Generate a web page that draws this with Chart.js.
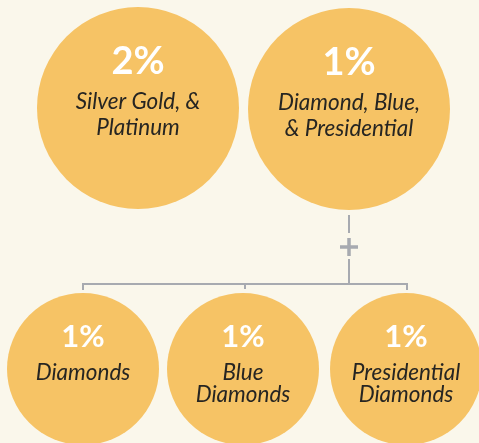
<!DOCTYPE html>
<html>
<head>
<meta charset="utf-8">
<script src="https://cdn.jsdelivr.net/npm/chart.js@4"></script>
<style>
  html, body { margin: 0; padding: 0; background: #faf7eb; }
  #wrap { width: 479px; height: 443px; }
</style>
</head>
<body>
<div id="wrap"><canvas id="chart"></canvas></div>
<script>
// data
var percents = [2, 1, 1, 1, 1];
var categories = [
    ['Silver Gold, &', 'Platinum'],
    ['Diamond, Blue,', '& Presidential'],
    ['Diamonds'],
    ['Blue', 'Diamonds'],
    ['Presidential', 'Diamonds']
];

// layout (scale units = px of the 479x443 picture)
var nodes = [
    { x: 138, y: 108, r: 101, big: true },
    { x: 349, y: 109, r: 101, big: true },
    { x: 83, y: 369, r: 76 },
    { x: 243, y: 369, r: 76 },
    { x: 406, y: 369, r: 76 }
];

var lineColor = '#a7aab0';

var labelPlugin = {
    id: 'labels',
    beforeDatasetsDraw: function (chart) {
        var ctx = chart.ctx;
        var xs = chart.scales.x, ys = chart.scales.y;
        var px = function (v) { return xs.getPixelForValue(v); };
        var py = function (v) { return ys.getPixelForValue(v); };
        ctx.save();
        ctx.strokeStyle = lineColor;
        ctx.lineWidth = 2;
        ctx.beginPath();
        // stem from top right circle
        ctx.moveTo(px(349), py(215)); ctx.lineTo(px(349), py(233));
        ctx.moveTo(px(349), py(259)); ctx.lineTo(px(349), py(284));
        // horizontal bar
        ctx.moveTo(px(83), py(284)); ctx.lineTo(px(407), py(284));
        // ticks down
        ctx.moveTo(px(83), py(283)); ctx.lineTo(px(83), py(290));
        ctx.moveTo(px(245), py(283)); ctx.lineTo(px(245), py(289));
        ctx.moveTo(px(407), py(283)); ctx.lineTo(px(407), py(290));
        ctx.stroke();
        // plus
        ctx.lineWidth = 3.5;
        ctx.beginPath();
        ctx.moveTo(px(340), py(247)); ctx.lineTo(px(358), py(247));
        ctx.moveTo(px(349), py(238)); ctx.lineTo(px(349), py(256));
        ctx.stroke();
        ctx.restore();
    },
    afterDatasetsDraw: function (chart) {
        var ctx = chart.ctx;
        var meta = chart.getDatasetMeta(0);
        ctx.save();
        ctx.textAlign = 'center';
        ctx.textBaseline = 'middle';
        meta.data.forEach(function (pt, i) {
            var big = nodes[i].big;
            ctx.fillStyle = '#ffffff';
            ctx.font = 'bold ' + (big ? 38 : 31) + 'px Lato';
            var topY = big ? pt.y - 46 : pt.y - 32;
            ctx.fillText(percents[i] + '%', pt.x, topY);
            ctx.fillStyle = '#262522';
            ctx.font = 'italic 22.5px Lato';
            var lines = categories[i];
            var y0 = big ? pt.y - 6 : pt.y + 4;
            lines.forEach(function (t, k) {
                ctx.fillText(t, pt.x, y0 + k * (big ? 26 : 22));
            });
        });
        ctx.restore();
    }
};

new Chart(document.getElementById('chart'), {
    type: 'bubble',
    data: {
        datasets: [{
            data: nodes.map(function (n) { return { x: n.x, y: n.y, r: n.r }; }),
            backgroundColor: '#f6c365',
            hoverBackgroundColor: '#f6c365',
            borderWidth: 0,
            hoverBorderWidth: 0,
            hoverRadius: 0,
            clip: false
        }]
    },
    options: {
        responsive: true,
        maintainAspectRatio: false,
        animation: false,
        events: [],
        layout: { padding: 0, autoPadding: false },
        plugins: { legend: { display: false }, tooltip: { enabled: false } },
        scales: {
            x: { type: 'linear', min: 0, max: 479, display: false },
            y: { type: 'linear', min: 0, max: 443, reverse: true, display: false }
        }
    },
    plugins: [labelPlugin]
});
</script>
</body>
</html>
